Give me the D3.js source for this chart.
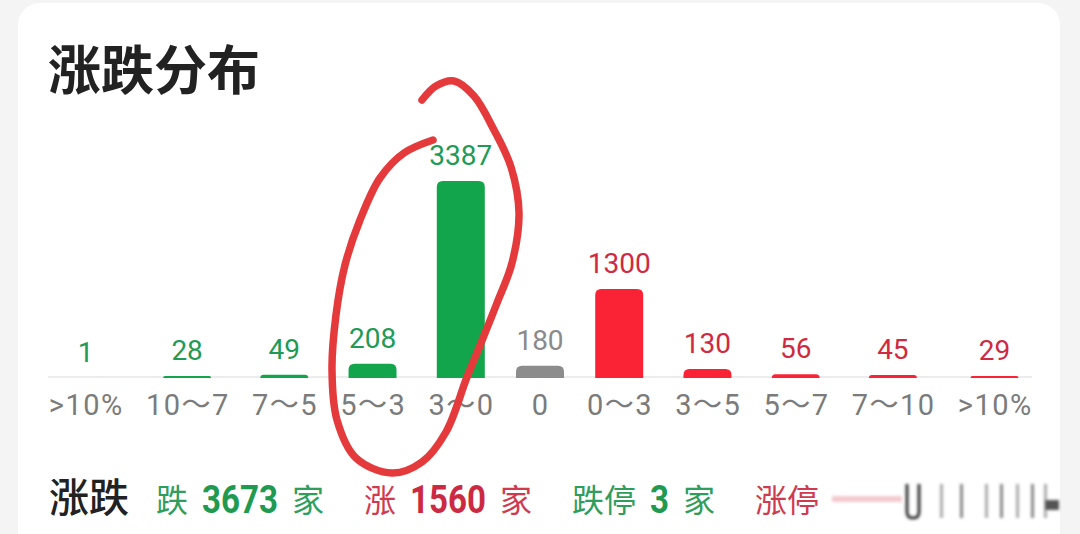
<!DOCTYPE html>
<html>
<head>
<meta charset="utf-8">
<script src="https://cdn.jsdelivr.net/npm/d3@7/dist/d3.min.js"></script>
<style>
  html, body { margin: 0; padding: 0; background: #f4f4f4; }
  svg { display: block; }
</style>
</head>
<body>
<svg id="chart" width="1080" height="534"></svg>
<script>
// ---------- data ----------
const title = "涨跌分布";
const categories = [">10%", "10～7", "7～5", "5～3", "3～0", "0", "0～3", "3～5", "5～7", "7～10", ">10%"];
const counts = [1, 28, 49, 208, 3387, 180, 1300, 130, 56, 45, 29];
const direction = ["down", "down", "down", "down", "down", "flat", "up", "up", "up", "up", "up"];
const summaryLabel = "涨跌";
const summaryPrefixes = ["跌", "涨", "跌停", "涨停"];
const summaryCounts = ["3673", "1560", "3", null];
const summaryDirection = ["down", "up", "down", "up"];
const summaryUnit = "家";
// hand-drawn red annotation loop (screen annotation, not data)
const annotationPath = [[433,140],[404,153],[380,178],[360,220],[345,265],[336,315],[332,370],[337,420],[356,458],[392,473],[422,462],[446,432],[467,377],[481,343],[497,303],[512,263],[519,213],[511,167],[494,130],[474,96],[454,81],[436,86],[422,100]];

// ---------- styles ----------
const barColor = { down: "#12a54b", flat: "#8c8c8c", up: "#fa2336" };
const valueColor = { down: "#219a55", flat: "#8a8a8a", up: "#cf2a40" };
const summaryNumColor = { down: "#1f9a50", up: "#cc2a42" };
const summaryTextColor = { down: "#2f9e5c", up: "#d03a4e" };
const numFont = "Roboto, 'Noto Sans CJK SC', sans-serif";
const cjkFont = "'Noto Sans CJK SC', 'Noto Sans', sans-serif";

const svg = d3.select("#chart");

// card
svg.append("rect").attr("x", 18).attr("y", 3).attr("width", 1042).attr("height", 600)
  .attr("rx", 22).attr("fill", "#ffffff");

// title
svg.append("text").attr("x", 48).attr("y", 90)
  .attr("font-family", cjkFont).attr("font-weight", 700).attr("font-size", 53)
  .attr("fill", "#222").text(title);

// ---------- layout ----------
const left = 48, right = 1032, baseY = 378, barW = 48, barR = 6;
const labelY = 415;

// category labels (measured, columns laid out flex space-between)
const labelG = svg.append("g");
const labels = labelG.selectAll("text").data(categories).join("text")
  .attr("font-family", numFont).attr("font-size", 29).attr("letter-spacing", 1.5)
  .attr("fill", "#7b7b7b").attr("y", labelY).text(d => d);
const textW = [];
labels.each(function () { textW.push(this.getComputedTextLength()); });
const colW = textW.map(w => Math.max(barW, w));
const gap = (right - left - d3.sum(colW)) / (categories.length - 1);
const centers = [];
let cx = left;
colW.forEach(w => { centers.push(cx + w / 2); cx += w + gap; });
const x = d3.scaleOrdinal().domain(d3.range(categories.length)).range(centers);
labels.attr("x", (d, i) => x(i) - textW[i] / 2 + 0.75);

const y = d3.scaleLinear().domain([0, 2880]).range([baseY, 181]).clamp(true);

// baseline
svg.append("line").attr("x1", left).attr("x2", right).attr("y1", baseY - 1).attr("y2", baseY - 1)
  .attr("stroke", "#ececec").attr("stroke-width", 2);

// bars with rounded top corners
function barPath(cx, top) {
  const h = baseY - top;
  const r = Math.min(barR, h, barW / 2);
  const x0 = cx - barW / 2, x1 = cx + barW / 2;
  return `M${x0},${baseY} L${x0},${top + r} Q${x0},${top} ${x0 + r},${top} L${x1 - r},${top} Q${x1},${top} ${x1},${top + r} L${x1},${baseY} Z`;
}
svg.append("g").selectAll("path").data(counts).join("path")
  .attr("d", (d, i) => barPath(x(i), y(d)))
  .attr("fill", (d, i) => barColor[direction[i]]);

// value labels
svg.append("g").selectAll("text").data(counts).join("text")
  .attr("x", (d, i) => x(i)).attr("y", d => y(d) - 16)
  .attr("text-anchor", "middle").attr("font-family", numFont).attr("font-size", 28)
  .attr("fill", (d, i) => valueColor[direction[i]]).text(d => d);

// ---------- summary row ----------
svg.append("text").attr("x", 49).attr("y", 512)
  .attr("font-family", cjkFont).attr("font-weight", 500).attr("font-size", 40)
  .attr("fill", "#222").text(summaryLabel);

let sx = 156;
summaryPrefixes.forEach((p, i) => {
  const dir = summaryDirection[i];
  const t1 = svg.append("text").attr("x", sx).attr("y", 512)
    .attr("font-family", cjkFont).attr("font-size", 32).attr("fill", summaryTextColor[dir]).text(p);
  sx += t1.node().getComputedTextLength();
  if (summaryCounts[i] !== null) {
    sx += 14;
    const n = summaryCounts[i];
    const len = n.length * 19;
    svg.append("text").attr("x", sx).attr("y", 513)
      .attr("font-family", numFont).attr("font-weight", 700).attr("font-size", 39)
      .attr("textLength", len).attr("lengthAdjust", "spacingAndGlyphs")
      .attr("fill", summaryNumColor[dir]).text(n);
    sx += len + 14;
    const t3 = svg.append("text").attr("x", sx).attr("y", 512)
      .attr("font-family", cjkFont).attr("font-size", 32).attr("fill", summaryTextColor[dir]).text(summaryUnit);
    sx += t3.node().getComputedTextLength() + 40;
  }
});

// obscured (blurred) tail of the summary row
const defs = svg.append("defs");
defs.append("filter").attr("id", "blur").append("feGaussianBlur").attr("stdDeviation", 1.6);
const blurG = svg.append("g").attr("filter", "url(#blur)");
blurG.append("rect").attr("x", 832).attr("y", 496).attr("width", 70).attr("height", 6).attr("fill", "#f3c9cf");
blurG.append("path").attr("d", "M907,484 L907,512 Q907,518 913,518 Q919,518 919,512 L919,484")
  .attr("fill", "none").attr("stroke", "#333").attr("stroke-width", 3);
[940, 960, 985, 1000, 1016, 1031, 1044].forEach((bx, k) => {
  blurG.append("rect").attr("x", bx).attr("y", 484).attr("width", 3).attr("height", 34)
    .attr("fill", k % 2 ? "#888" : "#aaa");
});
blurG.append("rect").attr("x", 1045).attr("y", 500).attr("width", 14).attr("height", 10).attr("fill", "#555");

// ---------- red hand-drawn annotation ----------
svg.append("path")
  .attr("d", d3.line().curve(d3.curveCatmullRom.alpha(0.5))(annotationPath))
  .attr("fill", "none").attr("stroke", "#e53a3b").attr("stroke-width", 7.5)
  .attr("stroke-linecap", "round").attr("stroke-linejoin", "round");
</script>
</body>
</html>
